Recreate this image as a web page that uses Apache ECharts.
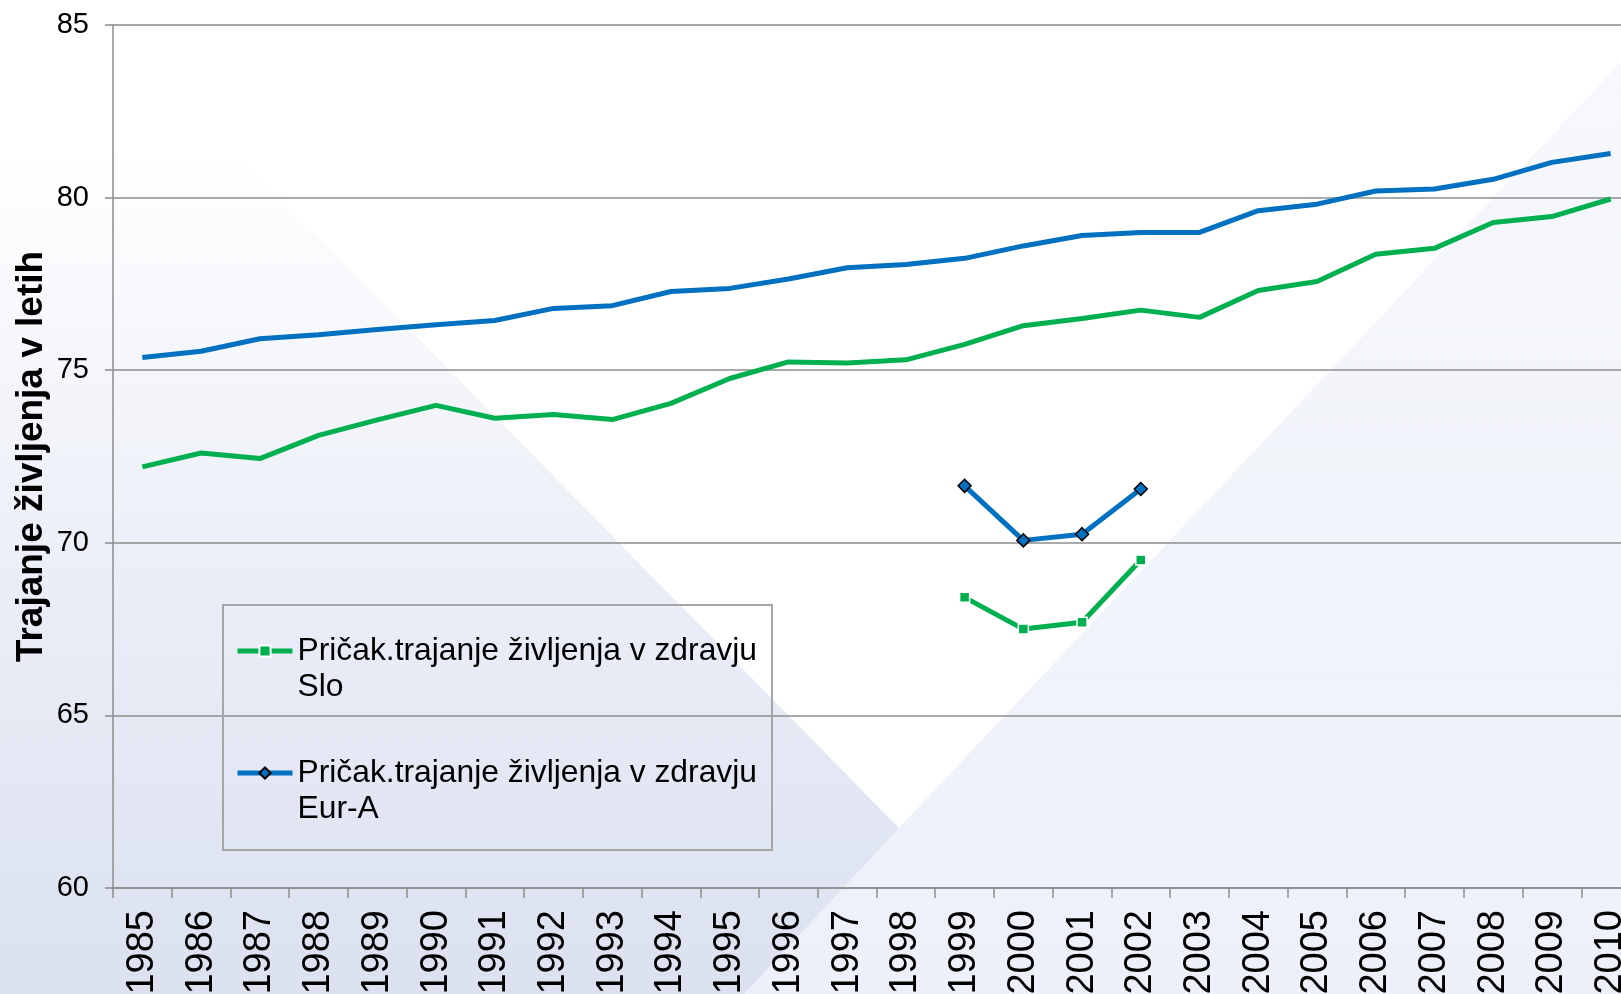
<!DOCTYPE html>
<html>
<head>
<meta charset="utf-8">
<title>Trajanje življenja</title>
<script src="https://cdn.jsdelivr.net/npm/echarts@6/dist/echarts.min.js"></script>
<style>
  html, body { margin: 0; padding: 0; background: #fff; }
  #main { width: 1621px; height: 994px; }
</style>
</head>
<body>
<div id="main"></div>
<script>
var years = ['1985', '1986', '1987', '1988', '1989', '1990', '1991', '1992', '1993',
    '1994', '1995', '1996', '1997', '1998', '1999', '2000', '2001', '2002', '2003',
    '2004', '2005', '2006', '2007', '2008', '2009', '2010'];

// pričakovano trajanje življenja (brez oznak, ni v legendi)
var lifeEurA = [75.37, 75.55, 75.91, 76.03, 76.18, 76.32, 76.44, 76.79, 76.87, 77.28,
    77.37, 77.64, 77.97, 78.06, 78.24, 78.60, 78.90, 78.99, 78.99, 79.62,
    79.81, 80.19, 80.25, 80.53, 81.02, 81.28];
var lifeSlo = [72.20, 72.60, 72.44, 73.11, 73.56, 73.98, 73.61, 73.72, 73.57, 74.04,
    74.76, 75.24, 75.21, 75.30, 75.75, 76.29, 76.50, 76.74, 76.53, 77.31,
    77.57, 78.36, 78.53, 79.28, 79.45, 79.96];

// pričakovano trajanje življenja v zdravju, samo 1999-2002
var healthyYears = ['1999', '2000', '2001', '2002'];
var healthySlo = [68.42, 67.50, 67.70, 69.50];
var healthyEurA = [71.65, 70.07, 70.25, 71.56];

var yTicks = [60, 65, 70, 75, 80, 85];

var nameHealthySlo = 'Pričak.trajanje življenja v zdravju\nSlo';
var nameHealthyEurA = 'Pričak.trajanje življenja v zdravju\nEur-A';

function onYears(subYears, values) {
    return years.map(function (y) {
        var i = subYears.indexOf(y);
        return i < 0 ? null : values[i];
    });
}

var green = '#00b050';
var blue = '#0070c0';
var gridColor = '#8c8c8c';
var font = '"Liberation Sans", Arial, sans-serif';

var myChart;
document.addEventListener('DOMContentLoaded', function () {
    myChart = echarts.init(document.getElementById('main'));

    var option = {
        animation: false,
        textStyle: { fontFamily: font },
        graphic: [
            {
                type: 'rect', z: -100, silent: true,
                shape: { x: 0, y: 0, width: 1621, height: 994 },
                style: {
                    fill: new echarts.graphic.LinearGradient(0, 0, 0, 1, [
                        { offset: 0, color: '#ffffff' },
                        { offset: 0.15, color: '#ffffff' },
                        { offset: 0.32, color: '#f7f8fc' },
                        { offset: 0.58, color: '#ebeef7' },
                        { offset: 0.86, color: '#e0e5f2' },
                        { offset: 1, color: '#dce1f0' }
                    ])
                }
            },
            {
                type: 'polygon', z: -99, silent: true,
                shape: { points: [[899, 828], [744, 994], [1621, 994], [1621, 62]] },
                style: {
                    fill: new echarts.graphic.LinearGradient(0, 0, 0, 1, [
                        { offset: 0, color: '#f6f8fc' },
                        { offset: 1, color: '#edf0f9' }
                    ])
                }
            },
            {
                type: 'polygon', z: -98, silent: true,
                shape: { points: [[86, 0], [899, 828], [1621, 62], [1621, 0]] },
                style: { fill: '#ffffff' }
            },
            {
                type: 'rect', z: 50, silent: true,
                shape: { x: 223, y: 605, width: 549, height: 245 },
                style: { fill: 'none', stroke: '#a6a6a6', lineWidth: 2 }
            }
        ],
        grid: {
            left: 113,
            top: 25,
            width: 1527,
            bottom: 106,
            outerBoundsMode: 'none'
        },
        legend: {
            data: [nameHealthySlo, nameHealthyEurA],
            orient: 'vertical',
            left: 235,
            top: 597,
            padding: 0,
            itemGap: 14,
            itemWidth: 55,
            itemHeight: 14,
            lineStyle: { width: 5 },
            // prazna prva vrstica: ikona stoji ob prvi vrstici besedila
            formatter: function (name) {
                return ' \n' + name;
            },
            textStyle: {
                fontFamily: font,
                fontSize: 31.8,
                lineHeight: 36,
                color: '#000'
            }
        },
        xAxis: {
            type: 'category',
            data: years,
            boundaryGap: true,
            axisLine: { lineStyle: { color: gridColor, width: 1.5 } },
            axisTick: { show: true, length: 10, lineStyle: { color: gridColor, width: 1.5 } },
            axisLabel: {
                rotate: 90,
                interval: 0,
                margin: 22,
                fontSize: 38,
                color: '#000',
                fontFamily: font
            }
        },
        yAxis: {
            type: 'value',
            min: yTicks[0],
            max: yTicks[yTicks.length - 1],
            interval: 5,
            name: 'Trajanje življenja v letih',
            nameLocation: 'middle',
            nameRotate: 90,
            nameGap: 63,
            nameMoveOverlap: false,
            nameTextStyle: {
                fontFamily: font,
                fontSize: 37,
                fontWeight: 'bold',
                color: '#000'
            },
            axisLine: { show: true, lineStyle: { color: gridColor, width: 1.5 } },
            axisTick: { show: true, length: 8, lineStyle: { color: gridColor, width: 1.5 } },
            axisLabel: {
                margin: 24,
                fontSize: 29,
                color: '#000',
                fontFamily: font
            },
            splitLine: { lineStyle: { color: gridColor, width: 1.5 } }
        },
        series: [
            {
                name: 'Pričak.trajanje življenja Slo',
                type: 'line',
                data: lifeSlo,
                showSymbol: false,
                lineStyle: { color: green, width: 5 },
                itemStyle: { color: green }
            },
            {
                name: 'Pričak.trajanje življenja Eur-A',
                type: 'line',
                data: lifeEurA,
                showSymbol: false,
                lineStyle: { color: blue, width: 5 },
                itemStyle: { color: blue }
            },
            {
                name: nameHealthySlo,
                type: 'line',
                data: onYears(healthyYears, healthySlo),
                symbol: 'rect',
                symbolSize: 10,
                lineStyle: { color: green, width: 5 },
                itemStyle: { color: green, borderColor: '#ffffff', borderWidth: 1.5 }
            },
            {
                name: nameHealthyEurA,
                type: 'line',
                data: onYears(healthyYears, healthyEurA),
                symbol: 'diamond',
                symbolSize: 13,
                lineStyle: { color: blue, width: 5 },
                itemStyle: { color: blue, borderColor: '#000000', borderWidth: 1.5 }
            }
        ]
    };

    myChart.setOption(option);
});
</script>
</body>
</html>
